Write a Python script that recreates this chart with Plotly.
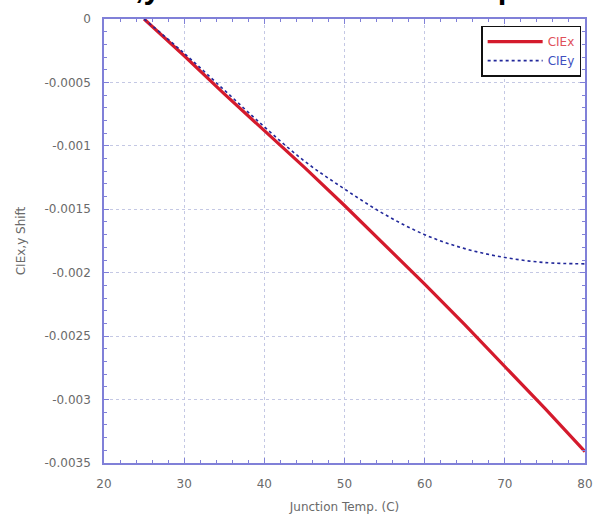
import plotly.graph_objects as go

# Junction temperature (C) and chromaticity shift of each coordinate
temps = [25, 30, 35, 40, 45, 50, 55, 60, 65, 70, 75, 80]
ciex_shift = [0.0, -0.00029, -0.00059, -0.00088, -0.00117, -0.00147,
              -0.00178, -0.00209, -0.00241, -0.00274, -0.00307, -0.00341]
ciey_shift = [0.0, -0.00027, -0.00056, -0.00085, -0.00112, -0.00134,
              -0.00154, -0.00170, -0.00181, -0.00188, -0.00192, -0.00193]

x_ticks = [20, 30, 40, 50, 60, 70, 80]
y_ticks = [0, -0.0005, -0.001, -0.0015, -0.002, -0.0025, -0.003, -0.0035]
y_tick_text = ["0", "-0.0005", "-0.001", "-0.0015", "-0.002", "-0.0025", "-0.003", "-0.0035"]

RED = "#d41a2c"
BLUE = "#22289a"
FRAME = "#8080d8"
GRID = "#c4c8e4"
TEXT = "#6a6a6a"
FONT = "DejaVu Sans, sans-serif"
TITLE_FONT = "Liberation Sans, Arial, sans-serif"

fig = go.Figure()
fig.add_trace(go.Scatter(
    x=temps, y=ciex_shift, mode="lines",
    name='<span style="color:#e0505a">CIEx</span>',
    line=dict(color=RED, width=3.2),
))
fig.add_trace(go.Scatter(
    x=temps, y=ciey_shift, mode="lines",
    name='<span style="color:#4050c0">CIEy</span>',
    line=dict(color=BLUE, width=1.6, dash="dot", shape="spline", smoothing=1.0),
))

axis_common = dict(
    showline=True, linecolor=FRAME, linewidth=1.5, mirror="ticks",
    ticks="inside", ticklen=5, tickcolor=FRAME, tickwidth=1,
    showgrid=True, gridcolor=GRID, griddash="dot", gridwidth=1,
    zeroline=False,
    tickfont=dict(family=FONT, size=12, color=TEXT),
)

fig.update_xaxes(
    range=[20, 80], tickvals=x_ticks, ticklabelstandoff=9,
    minor=dict(dtick=2, ticks="inside", ticklen=3, tickcolor=FRAME, showgrid=False),
    title=dict(text="Junction Temp. (C)", font=dict(family=FONT, size=12, color=TEXT), standoff=12),
    **axis_common,
)
fig.update_yaxes(
    range=[-0.0035, 0], tickvals=y_ticks, ticktext=y_tick_text, ticklabelstandoff=9,
    minor=dict(dtick=0.0001, ticks="inside", ticklen=3, tickcolor=FRAME, showgrid=False),
    title=dict(text="CIEx,y Shift", font=dict(family=FONT, size=12, color=TEXT), standoff=16),
    **axis_common,
)

fig.add_annotation(
    text="<b>CIEx,y Shift vs. Junction Temp</b>",
    xref="paper", yref="paper", x=0.39, y=1.027,
    xanchor="center", yanchor="bottom", showarrow=False,
    font=dict(family=TITLE_FONT, size=31, color="#000000"),
)

fig.update_layout(
    width=605, height=528,
    margin=dict(l=104, r=18, t=15, b=65),
    paper_bgcolor="white", plot_bgcolor="white",
    showlegend=True,
    legend=dict(
        x=0.992, y=0.985, xanchor="right", yanchor="top",
        bgcolor="white", bordercolor="#111111", borderwidth=1.5,
        font=dict(family=FONT, size=12, color=TEXT),
        itemwidth=55, tracegroupgap=0,
    ),
)

fig.write_html("out.html")
